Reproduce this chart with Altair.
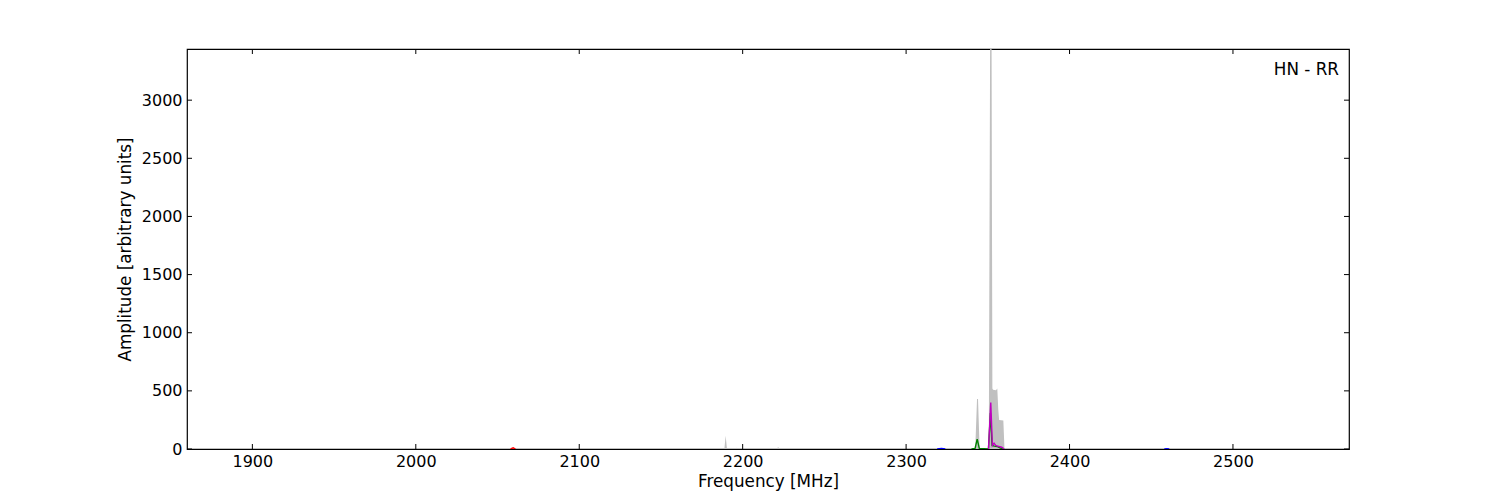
import altair as alt
import pandas as pd

# ---- data ----
gray_freq = [1860, 2155, 2157, 2159, 2169, 2170, 2171, 2188.8, 2189.6, 2190.4,
             2195, 2196, 2197, 2199, 2200, 2220.5, 2221.7, 2223,
             2342.3, 2343.4, 2344.0, 2345.0, 2350.6, 2351.4, 2352.3, 2352.8, 2353.2,
             2355.0, 2355.8, 2356.4, 2356.9, 2359.5, 2360.2, 2369, 2370, 2371, 2571]
gray_amp = [0, 0, 5, 0, 0, 4, 0, 0, 115, 0,
            0, 10, 0, 8, 0, 0, 15, 0,
            0, 430, 430, 0, 0, 3440, 3440, 520, 510,
            505, 520, 340, 250, 245, 0, 0, 4, 0, 0]

red_freq = [2058, 2059.6, 2061]
red_amp = [0, 10, 0]

blue_freq = [2319, 2321.6, 2324]
blue_amp = [0, 4, 0]

blue2_freq = [2458, 2459.6, 2461]
blue2_amp = [0, 3, 0]

green_freq = [2340, 2342.2, 2343.5, 2344.8, 2350.4, 2351.6, 2352.6, 2354.0, 2356.0, 2358.0, 2360.0]
green_amp = [0, 5, 85, 5, 0, 310, 30, 25, 20, 6, 0]

magenta_freq = [2350.4, 2351.8, 2352.8, 2353.8, 2354.8, 2356.0, 2358.5, 2360.0]
magenta_amp = [0, 400, 30, 50, 30, 25, 15, 0]

x_ticks = [1900, 2000, 2100, 2200, 2300, 2400, 2500]
y_ticks = [0, 500, 1000, 1500, 2000, 2500, 3000]

x_domain = [1860, 2571]
y_domain = [0, 3440]

W, H = 1162, 400
FONT = "DejaVu Sans"
FS = 16
TFS = 16.8

gray_df = pd.DataFrame({"freq": gray_freq, "amp": gray_amp})
lines = []
for name, col, fr, am in [("r", "r", red_freq, red_amp), ("b1", "b", blue_freq, blue_amp),
                          ("b2", "b", blue2_freq, blue2_amp),
                          ("g", "g", green_freq, green_amp), ("m", "m", magenta_freq, magenta_amp)]:
    for f, a in zip(fr, am):
        lines.append({"seg": name, "series": col, "freq": f, "amp": a})
lines_df = pd.DataFrame(lines)

xscale = alt.Scale(domain=x_domain, nice=False, zero=False)
yscale = alt.Scale(domain=y_domain, nice=False)

area = alt.Chart(gray_df).mark_area(color="#c0c0c0", clip=True, interpolate="linear").encode(
    x=alt.X("freq:Q", scale=xscale,
            axis=alt.Axis(title="Frequency [MHz]", values=x_ticks, ticks=False, domain=False,
                          grid=False, labelPadding=4, titlePadding=4, format="d",
                          labelFont=FONT, labelFontSize=FS, titleFont=FONT, titleFontSize=TFS,
                          titleFontWeight="normal", labelColor="black", titleColor="black")),
    y=alt.Y("amp:Q", scale=yscale,
            axis=alt.Axis(title="Amplitude [arbitrary units]", values=y_ticks, ticks=False,
                          domain=False, grid=False, labelPadding=5, titlePadding=7, format="d",
                          labelFont=FONT, labelFontSize=FS, titleFont=FONT, titleFontSize=TFS,
                          titleFontWeight="normal", labelColor="black", titleColor="black")),
)

line = alt.Chart(lines_df).mark_line(strokeWidth=1.4, clip=True).encode(
    x=alt.X("freq:Q", scale=xscale),
    y=alt.Y("amp:Q", scale=yscale),
    color=alt.Color("series:N", legend=None,
                    scale=alt.Scale(domain=["r", "b", "g", "m"],
                                    range=["#ff0000", "#0000ff", "#008000", "#bf00bf"])),
    detail="seg:N",
)

xt_df = pd.DataFrame({"t": x_ticks})
yt_df = pd.DataFrame({"t": y_ticks})
TL = 5
xt_bottom = alt.Chart(xt_df).mark_rule(color="black", strokeWidth=1).encode(
    x=alt.X("t:Q", scale=xscale), y=alt.value(H), y2=alt.value(H - TL))
xt_top = alt.Chart(xt_df).mark_rule(color="black", strokeWidth=1).encode(
    x=alt.X("t:Q", scale=xscale), y=alt.value(0), y2=alt.value(TL))
yt_left = alt.Chart(yt_df).mark_rule(color="black", strokeWidth=1).encode(
    y=alt.Y("t:Q", scale=yscale), x=alt.value(0), x2=alt.value(TL))
yt_right = alt.Chart(yt_df).mark_rule(color="black", strokeWidth=1).encode(
    y=alt.Y("t:Q", scale=yscale), x=alt.value(W), x2=alt.value(W - TL))

label = alt.Chart(pd.DataFrame({"txt": ["HN - RR"]})).mark_text(
    align="right", baseline="middle", font=FONT, fontSize=TFS, color="black").encode(
    text="txt:N", x=alt.value(W - 10), y=alt.value(21))

chart = alt.layer(area, line, xt_bottom, xt_top, yt_left, yt_right, label).properties(
    width=W, height=H,
    autosize=alt.AutoSizeParams(type="none"),
    padding={"left": 179, "top": 41, "right": 143, "bottom": 51},
).configure_view(stroke="black", strokeWidth=1.2)

chart.save("out.html", embed_options={"renderer": "svg", "actions": False})
